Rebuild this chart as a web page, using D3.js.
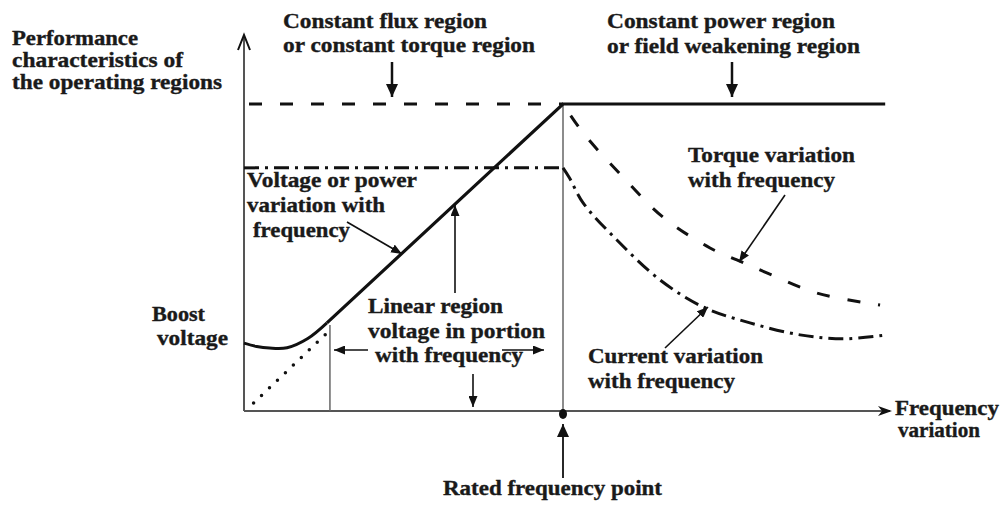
<!DOCTYPE html>
<html><head><meta charset="utf-8">
<script src="https://cdn.jsdelivr.net/npm/d3@7"></script>
<style>body{margin:0;background:#fff}svg{display:block}</style>
</head><body>
<script>
// ---- data: per-unit frequency (f) vs per-unit magnitude (v) ----
const ratedFrequency = 1.0;
const linearRegionStart = 0.26;
const voltageBoost = [[0,0.221],[0.04,0.21],[0.08,0.205],[0.135,0.206],[0.2,0.236],[0.26,0.287]];
const voltageLinear = [[0.26,0.287],[1.0,1.0],[2.01,1.0]];
const voltageIdeal = [[0.03,0.026],[0.27,0.264]];
const torqueFlat = [[0,1.0],[1.0,1.0]];
const torqueDecay = [[1.0,1.0],[1.063,0.906],[1.188,0.762],[1.313,0.632],[1.461,0.531],[1.545,0.492],[1.639,0.45],[1.796,0.384],[1.994,0.345]];
const currentFlat = [[0,0.792],[1.0,0.792]];
const currentDecay = [[1.0,0.792],[1.02,0.76],[1.063,0.678],[1.169,0.557],[1.304,0.427],[1.439,0.339],[1.586,0.287],[1.743,0.248],[1.878,0.235],[2.016,0.248]];

const labelLines = [
  "Performance","characteristics of","the operating regions",
  "Constant flux region","or constant torque region",
  "Constant power region","or field weakening region",
  "Voltage or power","variation with","frequency",
  "Boost","voltage",
  "Linear region","voltage in portion","with frequency",
  "Torque variation","with frequency",
  "Current variation","with frequency",
  "Frequency","variation",
  "Rated frequency point"
];
// layout for labels: [x, baseline, width]
const labelLayout = [
  [12,45,126],[12,67,171],[12,89,210],
  [283,28,204],[283,52,252],
  [607,28,228],[607,53,253],
  [247,187,170],[247,212,138],[253,237,97],
  [152,321,53],[157,345,71],
  [368,313,135],[368,338,177],[375,362,148],
  [688,162,167],[688,187,147],
  [588,363,175],[588,388,147],
  [895,415,104],[898,437,82],
  [443,495,219]
];

const W = 1000, H = 506;
const x = d3.scaleLinear().domain([0,2]).range([244,882]);
const y = d3.scaleLinear().domain([0,1]).range([411,104]);

const svg = d3.select("body").append("svg").attr("width",W).attr("height",H);
const defs = svg.append("defs");
function mk(id,len,wid){
  defs.append("marker").attr("id",id).attr("markerUnits","userSpaceOnUse")
    .attr("viewBox",`0 ${-wid/2} ${len} ${wid}`).attr("refX",len).attr("refY",0)
    .attr("markerWidth",len).attr("markerHeight",wid).attr("orient","auto")
    .append("path").attr("d",`M0,${-wid/2}L${len},0L0,${wid/2}Z`).attr("fill","#111");
}
mk("ah",11,9);
mk("ahBig",13,12);

const ink = "#111";
const line = d3.line().x(d=>x(d[0])).y(d=>y(d[1]));

// axes
const axisCol = "#555";
svg.append("line").attr("x1",x(0)).attr("y1",y(0)).attr("x2",x(0)).attr("y2",36)
  .attr("stroke",axisCol).attr("stroke-width",2);
svg.append("path").attr("d",`M${x(0)-6},50L${x(0)},35L${x(0)+6},50`).attr("fill","none").attr("stroke",ink).attr("stroke-width",2);
svg.append("line").attr("x1",x(0)).attr("y1",y(0)).attr("x2",890).attr("y2",y(0))
  .attr("stroke",axisCol).attr("stroke-width",2.2);
svg.append("path").attr("d",`M878,${y(0)-5}L892,${y(0)}L878,${y(0)+5}L882,${y(0)}Z`).attr("fill",ink);

// thin vertical guide lines
svg.append("line").attr("x1",x(ratedFrequency)).attr("x2",x(ratedFrequency))
  .attr("y1",y(1)).attr("y2",y(0)).attr("stroke","#666").attr("stroke-width",1.5);
svg.append("line").attr("x1",x(linearRegionStart)+3).attr("x2",x(linearRegionStart)+3)
  .attr("y1",y(0.28)).attr("y2",y(0)).attr("stroke","#666").attr("stroke-width",1.5);

// torque (dashed)
svg.append("path").attr("d",line(torqueFlat)).attr("fill","none").attr("stroke",ink)
  .attr("stroke-width",3).attr("stroke-dasharray","13,18").attr("stroke-dashoffset",-5);
svg.append("path").attr("d",line.curve(d3.curveCatmullRom)(torqueDecay)).attr("fill","none").attr("stroke",ink)
  .attr("stroke-width",3).attr("stroke-dasharray","13,18").attr("stroke-dashoffset",-14);
line.curve(d3.curveLinear);

// current (dash-dot)
svg.append("path").attr("d",line(currentFlat)).attr("fill","none").attr("stroke",ink)
  .attr("stroke-width",3).attr("stroke-dasharray","15,6,3,6");
svg.append("path").attr("d",line.curve(d3.curveCatmullRom)(currentDecay)).attr("fill","none").attr("stroke",ink)
  .attr("stroke-width",3).attr("stroke-dasharray","15,6,3,6");
line.curve(d3.curveLinear);

// ideal V/f (dotted)
svg.append("path").attr("d",line(voltageIdeal)).attr("fill","none").attr("stroke",ink)
  .attr("stroke-width",3.5).attr("stroke-linecap","round").attr("stroke-dasharray","0,11");

// voltage (solid)
svg.append("path").attr("d",line.curve(d3.curveCatmullRom)(voltageBoost)).attr("fill","none").attr("stroke",ink).attr("stroke-width",3);
line.curve(d3.curveLinear);
svg.append("path").attr("d",line(voltageLinear)).attr("fill","none").attr("stroke",ink).attr("stroke-width",3.2).attr("stroke-linejoin","miter");

// rated frequency point dot
svg.append("ellipse").attr("cx",x(ratedFrequency)).attr("cy",y(0)+3).attr("rx",4).attr("ry",5).attr("fill",ink);

// annotation arrows [x1,y1,x2,y2,width,marker]
const arrows = [
  [392,62,392,97,2.5,"ahBig"],
  [732,62,732,97,2.5,"ahBig"],
  [347,222,402,254,1.6,"ah"],
  [455,293,455,205,1.6,"ah"],
  [368,350,334,350,1.6,"ah"],
  [502,350,544,350,1.6,"ah"],
  [473,374,473,407,1.6,"ah"],
  [785,195,739,262,1.6,"ah"],
  [665,348,708,307,1.6,"ah"],
  [563,478,563,424,1.8,"ahBig"]
];
svg.selectAll("line.ann").data(arrows).enter().append("line").attr("class","ann")
  .attr("x1",d=>d[0]).attr("y1",d=>d[1]).attr("x2",d=>d[2]).attr("y2",d=>d[3])
  .attr("stroke",ink).attr("stroke-width",d=>d[4]).attr("marker-end",d=>`url(#${d[5]})`);

// labels
svg.selectAll("text.lbl").data(labelLines).enter().append("text").attr("class","lbl")
  .attr("x",(d,i)=>labelLayout[i][0]).attr("y",(d,i)=>labelLayout[i][1])
  .attr("textLength",(d,i)=>labelLayout[i][2]).attr("lengthAdjust","spacingAndGlyphs")
  .attr("font-family","'Liberation Serif','Times New Roman',serif").attr("font-weight","bold")
  .attr("font-size",20).attr("fill","#1a1a1a").attr("stroke","#1a1a1a").attr("stroke-width",0.35)
  .text(d=>d);
</script>
</body></html>
